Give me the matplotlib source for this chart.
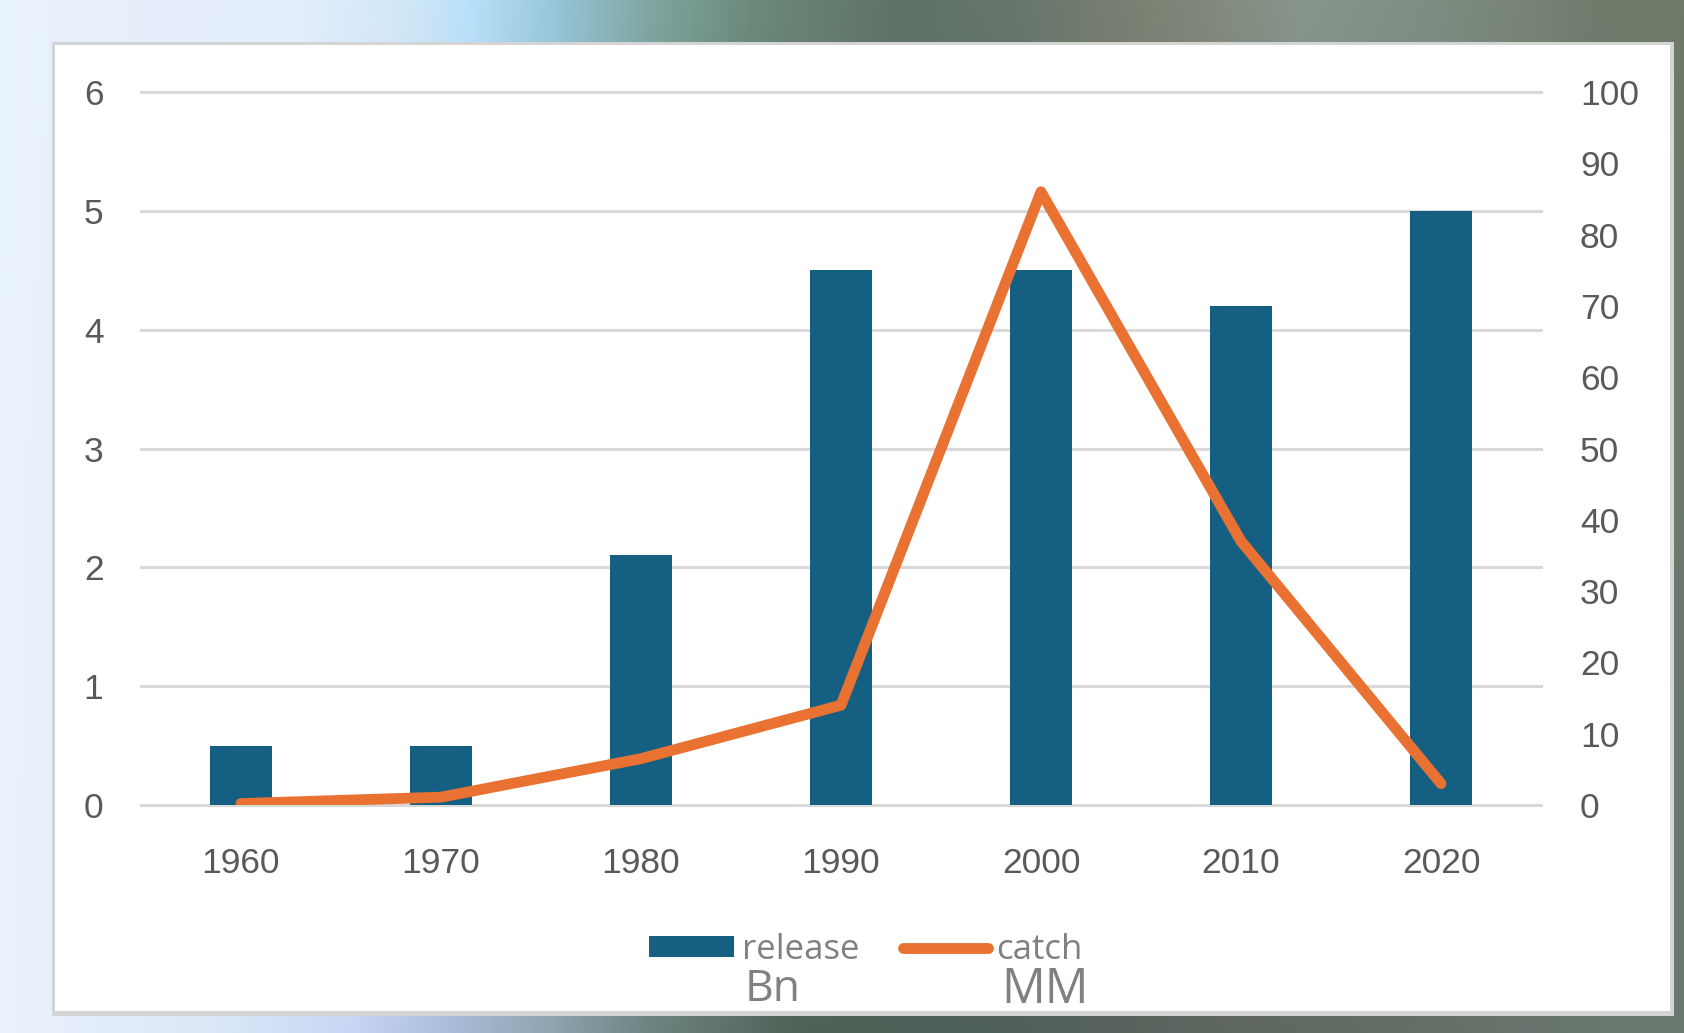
import numpy as np
import matplotlib
matplotlib.use("Agg")
import matplotlib.pyplot as plt
from matplotlib.patches import Rectangle
from matplotlib.lines import Line2D
from matplotlib.colors import to_rgb

# ---- data ----
years = ["1960", "1970", "1980", "1990", "2000", "2010", "2020"]
release_bn = [0.5, 0.5, 2.1, 4.5, 4.5, 4.2, 5.0]
catch_mm = [0.2, 1.1, 6.5, 14, 86, 37, 3]
left_ticks = [0, 1, 2, 3, 4, 5, 6]
right_ticks = [0, 10, 20, 30, 40, 50, 60, 70, 80, 90, 100]

BAR_COLOR = "#156082"
LINE_COLOR = "#E97132"
TICK_COLOR = "#595959"
LEGEND_COLOR = "#808080"
GRID_COLOR = "#d9d9d9"

W, H = 1684, 1033
fig = plt.figure(figsize=(W / 100, H / 100), dpi=100)

# ---- slide background: horizontal gradient, blended top to bottom ----
top_stops = [(0, "#eaf4fc"), (150, "#e6eefa"), (300, "#e4eefc"), (420, "#cde6f7"),
             (470, "#b9e0fb"), (560, "#96c4d6"), (650, "#7fa6a0"), (750, "#6c8a7c"),
             (900, "#5f7268"), (1000, "#66756a"), (1150, "#7c8274"), (1300, "#88958a"),
             (1450, "#7e8c80"), (1600, "#6f7c6c"), (1684, "#707a6a")]
bot_stops = [(0, "#eaf2fc"), (200, "#dde8f8"), (350, "#c8d8f4"), (450, "#aabcd8"),
             (550, "#8ea4b0"), (650, "#6d8480"), (800, "#4e6256"), (1000, "#4f5f58"),
             (1200, "#5e6660"), (1400, "#646c66"), (1600, "#6a7870"), (1684, "#6a7870")]


def row(stops):
    xs = np.arange(W)
    px = [p for p, _ in stops]
    cols = np.array([to_rgb(c) for _, c in stops])
    return np.stack([np.interp(xs, px, cols[:, k]) for k in range(3)], axis=1)


top_row, bot_row = row(top_stops), row(bot_stops)
t = np.linspace(0, 1, H)[:, None, None]
bg = top_row[None] * (1 - t) + bot_row[None] * t

bg_ax = fig.add_axes([0, 0, 1, 1], zorder=-10)
bg_ax.imshow(bg, extent=(0, W, H, 0), aspect="auto", interpolation="bilinear")
bg_ax.set_xlim(0, W)
bg_ax.set_ylim(H, 0)
bg_ax.axis("off")

# white chart card with a soft grey frame
bg_ax.add_patch(Rectangle((52, 42), 1622, 974, facecolor="#d4d4d4", edgecolor="none"))
bg_ax.add_patch(Rectangle((55, 45), 1615, 966, facecolor="white", edgecolor="none"))

# ---- chart ----
ax = fig.add_axes([141 / W, 1 - 805 / H, 1400 / W, 713 / H])
ax.set_facecolor("none")
x = np.arange(len(years))
bars = ax.bar(x, release_bn, width=0.31, color=BAR_COLOR, zorder=2)
ax.set_xlim(-0.5, len(years) - 0.5)
ax.set_ylim(0, 6)
ax.set_yticks(left_ticks)
ax.set_xticks(x)
ax.set_xticklabels(years)
ax.grid(axis="y", color=GRID_COLOR, linewidth=2.2, zorder=0)
ax.set_axisbelow(True)
for gl in ax.get_ygridlines():
    gl.set_clip_on(False)

ax2 = ax.twinx()
line, = ax2.plot(x, catch_mm, color=LINE_COLOR, linewidth=7.8,
                 solid_capstyle="round", solid_joinstyle="round", zorder=3)
ax2.set_ylim(0, 100)
ax2.set_yticks(right_ticks)

tick_family = ["Liberation Sans", "DejaVu Sans"]
for a in (ax, ax2):
    for s in a.spines.values():
        s.set_visible(False)
    a.tick_params(length=0, colors=TICK_COLOR)
    for lab in a.get_xticklabels() + a.get_yticklabels():
        lab.set_fontfamily(tick_family)
        lab.set_fontsize(25.5)
ax.tick_params(axis="y", pad=27)
ax.tick_params(axis="x", pad=30)
ax2.tick_params(axis="y", pad=28)

# ---- legend ----
leg_font = ["Open Sans", "DejaVu Sans"]
handles = [Rectangle((0, 0), 1, 1, facecolor=BAR_COLOR),
           Line2D([], [], color=LINE_COLOR, linewidth=7.8, solid_capstyle="round")]
leg = fig.legend(handles, ["release", "catch"], ncol=2, frameon=False,
                 loc="center left", bbox_to_anchor=(649 / W, 1 - 950 / H),
                 prop=dict(family=leg_font, size=25), labelcolor=LEGEND_COLOR,
                 handlelength=2.45, handleheight=0.55, handletextpad=0.22,
                 columnspacing=1.27, borderpad=0, borderaxespad=0)
fig.text(745 / W, 1 - 990 / H, "Bn", family=leg_font, size=32,
         color=LEGEND_COLOR, ha="left", va="center")
fig.text(1001 / W, 1 - 990 / H, "MM", family=leg_font, size=35,
         color=LEGEND_COLOR, ha="left", va="center")

fig.savefig("out.png", dpi=100)
